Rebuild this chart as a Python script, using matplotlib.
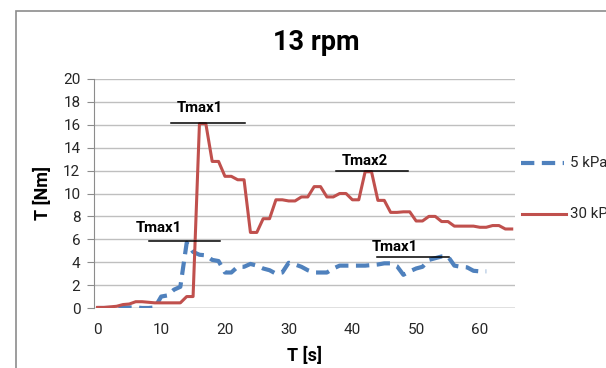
import numpy as np
import matplotlib
matplotlib.use("Agg")
import matplotlib.pyplot as plt
from matplotlib.patches import Rectangle
from matplotlib.lines import Line2D

plt.rcParams["font.family"] = ["Roboto", "DejaVu Sans"]

# torque traces, one sample per second
t_30 = np.arange(0, 66)
torque_30 = [0.05, 0.05, 0.1, 0.15, 0.3, 0.35, 0.55, 0.55, 0.5, 0.45,
             0.45, 0.45, 0.45, 0.45, 1.0, 1.0, 16.1, 16.1, 12.8, 12.8,
             11.5, 11.5, 11.2, 11.2, 6.6, 6.6, 7.8, 7.8, 9.45, 9.45,
             9.35, 9.35, 9.7, 9.7, 10.6, 10.6, 9.7, 9.7, 10.0, 10.0,
             9.45, 9.45, 11.9, 11.9, 9.4, 9.4, 8.35, 8.35, 8.4, 8.4,
             7.6, 7.6, 8.0, 8.0, 7.55, 7.55, 7.15, 7.15, 7.15, 7.15,
             7.05, 7.05, 7.2, 7.2, 6.9, 6.9]

t_5 = np.arange(0, 62)
torque_5 = [0.0, 0.0, 0.0, 0.0, 0.05, 0.05, 0.05, 0.0, 0.0, 0.05,
            1.0, 1.1, 1.6, 1.85, 5.7, 4.9, 4.65, 4.6, 4.2, 4.1,
            3.1, 3.1, 3.6, 3.6, 3.85, 3.7, 3.45, 3.3, 3.0, 3.1,
            3.95, 3.8, 3.6, 3.3, 3.1, 3.1, 3.1, 3.45, 3.7, 3.7,
            3.7, 3.7, 3.7, 3.75, 3.8, 3.9, 3.9, 3.65, 2.9, 3.2,
            3.45, 3.6, 4.2, 4.35, 4.5, 4.5, 3.7, 3.6, 3.55, 3.25,
            3.2, 3.2]

# peak markers: label, text x, text y, line x0, line x1, line y
peak_labels = ["Tmax1", "Tmax1", "Tmax2", "Tmax1"]
peak_tx = [16.1, 9.6, 42.0, 46.7]
peak_ty = [17.5, 7.0, 12.85, 5.3]
peak_x0 = [11.6, 8.1, 37.45, 43.9]
peak_x1 = [23.1, 19.3, 48.7, 55.1]
peak_y = [16.2, 5.88, 12.0, 4.45]

blue = "#4F81BD"
red = "#C0504D"

fig = plt.figure(figsize=(6.06, 3.68), dpi=100)
fig.patches.append(Rectangle((15.5 / 606, -0.1), 1.2, 1 - 10.5 / 368 + 0.1,
                             transform=fig.transFigure, fill=False,
                             edgecolor="#8c8c8c", linewidth=1.2))

ax = fig.add_axes([94.3 / 606, 60 / 368, 420.6 / 606, 229 / 368])
ax.plot(t_5, torque_5, color=blue, lw=3.0, dashes=(3.2, 1.8),
        solid_capstyle="butt", zorder=3)
ax.plot(t_30, torque_30, color=red, lw=2.2, zorder=4)

for lab, tx, ty, x0, x1, y in zip(peak_labels, peak_tx, peak_ty,
                                  peak_x0, peak_x1, peak_y):
    ax.plot([x0, x1], [y, y], color="black", lw=1.1, zorder=5)
    ax.text(tx, ty, lab, ha="center", va="center", fontsize=10.8,
            fontweight="bold", zorder=6)

ax.set_xlim(-0.5, 65.5)
ax.set_ylim(0, 20)
ax.set_xticks(range(0, 61, 10))
ax.set_yticks(range(0, 21, 2))
ax.yaxis.grid(True, color="#bfbfbf", lw=1.0)
ax.set_axisbelow(True)
for s in ["top", "right", "bottom"]:
    ax.spines[s].set_visible(False)
ax.spines["left"].set_color("#8c8c8c")
ax.axhline(0, color="#9a9a9a", lw=1.0, zorder=2)
ax.tick_params(axis="y", length=5, color="#8c8c8c", labelsize=11, pad=5,
               labelcolor="#262626")
ax.tick_params(axis="x", length=0, labelsize=11, pad=11,
               labelcolor="#262626")

ax.set_xlabel("T [s]", fontsize=13, fontweight="bold", labelpad=7)
ax.set_ylabel("T [Nm]", fontsize=13, fontweight="bold", labelpad=8)

fig.text(316.7 / 606, 1 - 43 / 368, "13 rpm", ha="center", va="center",
         fontsize=19.5, fontweight="bold")

# legend drawn at the right edge, second label is cut by the border
leg_y = [1 - 162.7 / 368, 1 - 213.7 / 368]
fig.add_artist(Line2D([520.7 / 606, 564 / 606], [leg_y[0]] * 2, color=blue,
                      lw=3.0, dashes=(3.2, 1.8), transform=fig.transFigure))
fig.add_artist(Line2D([521.7 / 606, 565.7 / 606], [leg_y[1]] * 2, color=red,
                      lw=2.2, transform=fig.transFigure))
fig.text(570 / 606, leg_y[0], "5 kPa", ha="left", va="center", fontsize=10.8,
         color="#262626")
fig.text(570 / 606, leg_y[1], "30 kPa", ha="left", va="center", fontsize=10.8,
         color="#262626")

fig.savefig("out.png", dpi=100)
